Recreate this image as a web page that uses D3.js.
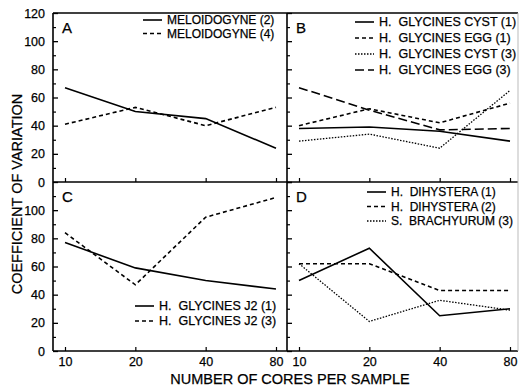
<!DOCTYPE html>
<html>
<head>
<meta charset="utf-8">
<script src="https://cdn.jsdelivr.net/npm/d3@7"></script>
<style>
  body { margin: 0; background: #fff; }
  text { font-family: "Liberation Sans", Arial, sans-serif; fill: #000; stroke: #000; stroke-width: 0.25px; }
</style>
</head>
<body>
<div id="chart"></div>
<script>
// values
const cores = [10, 20, 40, 80];
const yMajor = [0, 20, 40, 60, 80, 100, 120];
const yMinor = [10, 30, 50, 70, 90, 110];

const meloidogyne2 = [67, 50, 45, 24];
const meloidogyne4 = [41, 53, 40, 53];

const glyCyst1 = [38, 39, 36, 29];
const glyEgg1 = [40, 52, 42, 56];
const glyCyst3 = [29, 34, 24, 65];
const glyEgg3 = [67, 51, 37, 38];

const glyJ2_1 = [77, 59, 50, 44];
const glyJ2_3 = [84, 47, 95, 109];

const dihystera1 = [50, 73, 25, 30];
const dihystera2 = [62, 62, 43, 43];
const brachyurum3 = [62, 21, 36, 29];

const width = 519;
const height = 391;

const frameL = 53, frameM = 287, frameR = 518;
const frameT = 13, frameMid = 182, frameB = 351;

const solid = null, dash = "4,3", dot = "1.5,1.5", longDash = "9,4";

const panels = [
  {
    letter: "A", col: 0, row: 0,
    series: [
      { name: "MELOIDOGYNE (2)", values: meloidogyne2, dash: solid },
      { name: "MELOIDOGYNE (4)", values: meloidogyne4, dash: dash },
    ],
    legend: { x: 143, y: 20, step: 13.5, size: 12 },
  },
  {
    letter: "B", col: 1, row: 0,
    series: [
      { name: "H.  GLYCINES CYST (1)", values: glyCyst1, dash: solid },
      { name: "H.  GLYCINES EGG (1)", values: glyEgg1, dash: dash },
      { name: "H.  GLYCINES CYST (3)", values: glyCyst3, dash: dot },
      { name: "H.  GLYCINES EGG (3)", values: glyEgg3, dash: longDash },
    ],
    legend: { x: 355, y: 22, step: 16, size: 12.5 },
  },
  {
    letter: "C", col: 0, row: 1,
    series: [
      { name: "H.  GLYCINES J2 (1)", values: glyJ2_1, dash: solid },
      { name: "H.  GLYCINES J2 (3)", values: glyJ2_3, dash: dash },
    ],
    legend: { x: 135, y: 306, step: 15, size: 12.5 },
  },
  {
    letter: "D", col: 1, row: 1,
    series: [
      { name: "H.  DIHYSTERA (1)", values: dihystera1, dash: solid },
      { name: "H.  DIHYSTERA (2)", values: dihystera2, dash: dash },
      { name: "S.  BRACHYURUM (3)", values: brachyurum3, dash: dot },
    ],
    legend: { x: 367, y: 192, step: 14.5, size: 12 },
  },
];

const svg = d3.select("#chart")
  .append("svg")
  .attr("width", width)
  .attr("height", height);

// outer frame lines
const frame = svg.append("g").attr("stroke", "#000").attr("stroke-width", 1.6);
frame.append("line").attr("x1", frameL).attr("x2", frameR).attr("y1", frameT).attr("y2", frameT);
frame.append("line").attr("x1", frameL).attr("x2", frameR).attr("y1", frameMid).attr("y2", frameMid);
frame.append("line").attr("x1", frameL).attr("x2", frameR).attr("y1", frameB).attr("y2", frameB);
frame.append("line").attr("x1", frameL).attr("x2", frameL).attr("y1", frameT).attr("y2", frameB);
frame.append("line").attr("x1", frameM).attr("x2", frameM).attr("y1", frameT).attr("y2", frameB);
svg.append("line")
  .attr("x1", frameR).attr("x2", frameR).attr("y1", frameT).attr("y2", frameB)
  .attr("stroke", "#bbb").attr("stroke-width", 1);

panels.forEach((p) => {
  const x0 = p.col === 0 ? frameL : frameM;
  const yTop = p.row === 0 ? frameT : frameMid;
  const yBot = p.row === 0 ? frameMid : frameB;

  const x = d3.scaleLog().domain([10, 80]).range([x0 + 12, x0 + 223]);
  const y = d3.scaleLinear().domain([0, 120]).range([yBot, yTop]);

  const g = svg.append("g");

  // y axis: inward ticks, labels only on the left column
  const showLabels = p.col === 0;
  const labelTicks = p.row === 0 ? yMajor : yMajor.filter((d) => d < 120);
  const yAxis = d3.axisLeft(y)
    .tickValues(showLabels ? labelTicks : yMajor)
    .tickSizeInner(-5)
    .tickSizeOuter(0)
    .tickPadding(8)
    .tickFormat(showLabels ? d3.format("d") : () => "");
  const ya = g.append("g").attr("transform", `translate(${x0},0)`).call(yAxis);
  ya.select(".domain").remove();
  ya.selectAll("line").attr("stroke", "#000").attr("stroke-width", 1.3);
  ya.selectAll("text")
    .style("font-family", "'Liberation Sans', Arial, sans-serif")
    .style("font-size", "12.5px");

  const yMin = g.append("g").attr("transform", `translate(${x0},0)`)
    .call(d3.axisLeft(y).tickValues(yMinor).tickSizeInner(-3).tickSizeOuter(0).tickFormat(() => ""));
  yMin.select(".domain").remove();
  yMin.selectAll("line").attr("stroke", "#000").attr("stroke-width", 1.2);

  // x axis: inward ticks, labels on bottom row only
  const xAxis = d3.axisBottom(x)
    .tickValues(cores)
    .tickSizeInner(-4)
    .tickSizeOuter(0)
    .tickPadding(6)
    .tickFormat(p.row === 1 ? d3.format("d") : () => "");
  const xa = g.append("g").attr("transform", `translate(0,${yBot})`).call(xAxis);
  xa.select(".domain").remove();
  xa.selectAll("line").attr("stroke", "#000").attr("stroke-width", 1.2);
  xa.selectAll("text")
    .style("font-family", "'Liberation Sans', Arial, sans-serif")
    .style("font-size", "12.5px");

  // panel letter
  g.append("text")
    .attr("x", x0 + 9)
    .attr("y", yTop + 20)
    .style("font-size", "15px")
    .text(p.letter);

  // series lines
  const line = d3.line()
    .x((d, i) => x(cores[i]))
    .y((d) => y(d));

  g.selectAll("path.series")
    .data(p.series)
    .join("path")
    .attr("class", "series")
    .attr("fill", "none")
    .attr("stroke", "#000")
    .attr("stroke-width", (d) => (d.dash === dot ? 1.3 : 1.6))
    .attr("stroke-dasharray", (d) => d.dash)
    .attr("d", (d) => line(d.values));

  // legend
  const lg = g.append("g")
    .selectAll("g")
    .data(p.series)
    .join("g")
    .attr("transform", (d, i) => `translate(${p.legend.x},${p.legend.y + i * p.legend.step})`);

  lg.append("line")
    .attr("x1", 0).attr("x2", 19)
    .attr("stroke", "#000")
    .attr("stroke-width", (d) => (d.dash === dot ? 1.3 : 1.6))
    .attr("stroke-dasharray", (d) => d.dash);

  lg.append("text")
    .attr("x", 24)
    .attr("dy", "0.35em")
    .style("font-size", `${p.legend.size}px`)
    .style("white-space", "pre")
    .text((d) => d.name);
});

// axis titles
svg.append("text")
  .attr("x", 290)
  .attr("y", 384)
  .attr("text-anchor", "middle")
  .style("font-size", "14.5px")
  .text("NUMBER OF CORES PER SAMPLE");

svg.append("text")
  .attr("transform", "translate(22,194) rotate(-90)")
  .attr("text-anchor", "middle")
  .style("font-size", "14.5px")
  .text("COEFFICIENT OF VARIATION");
</script>
</body>
</html>
